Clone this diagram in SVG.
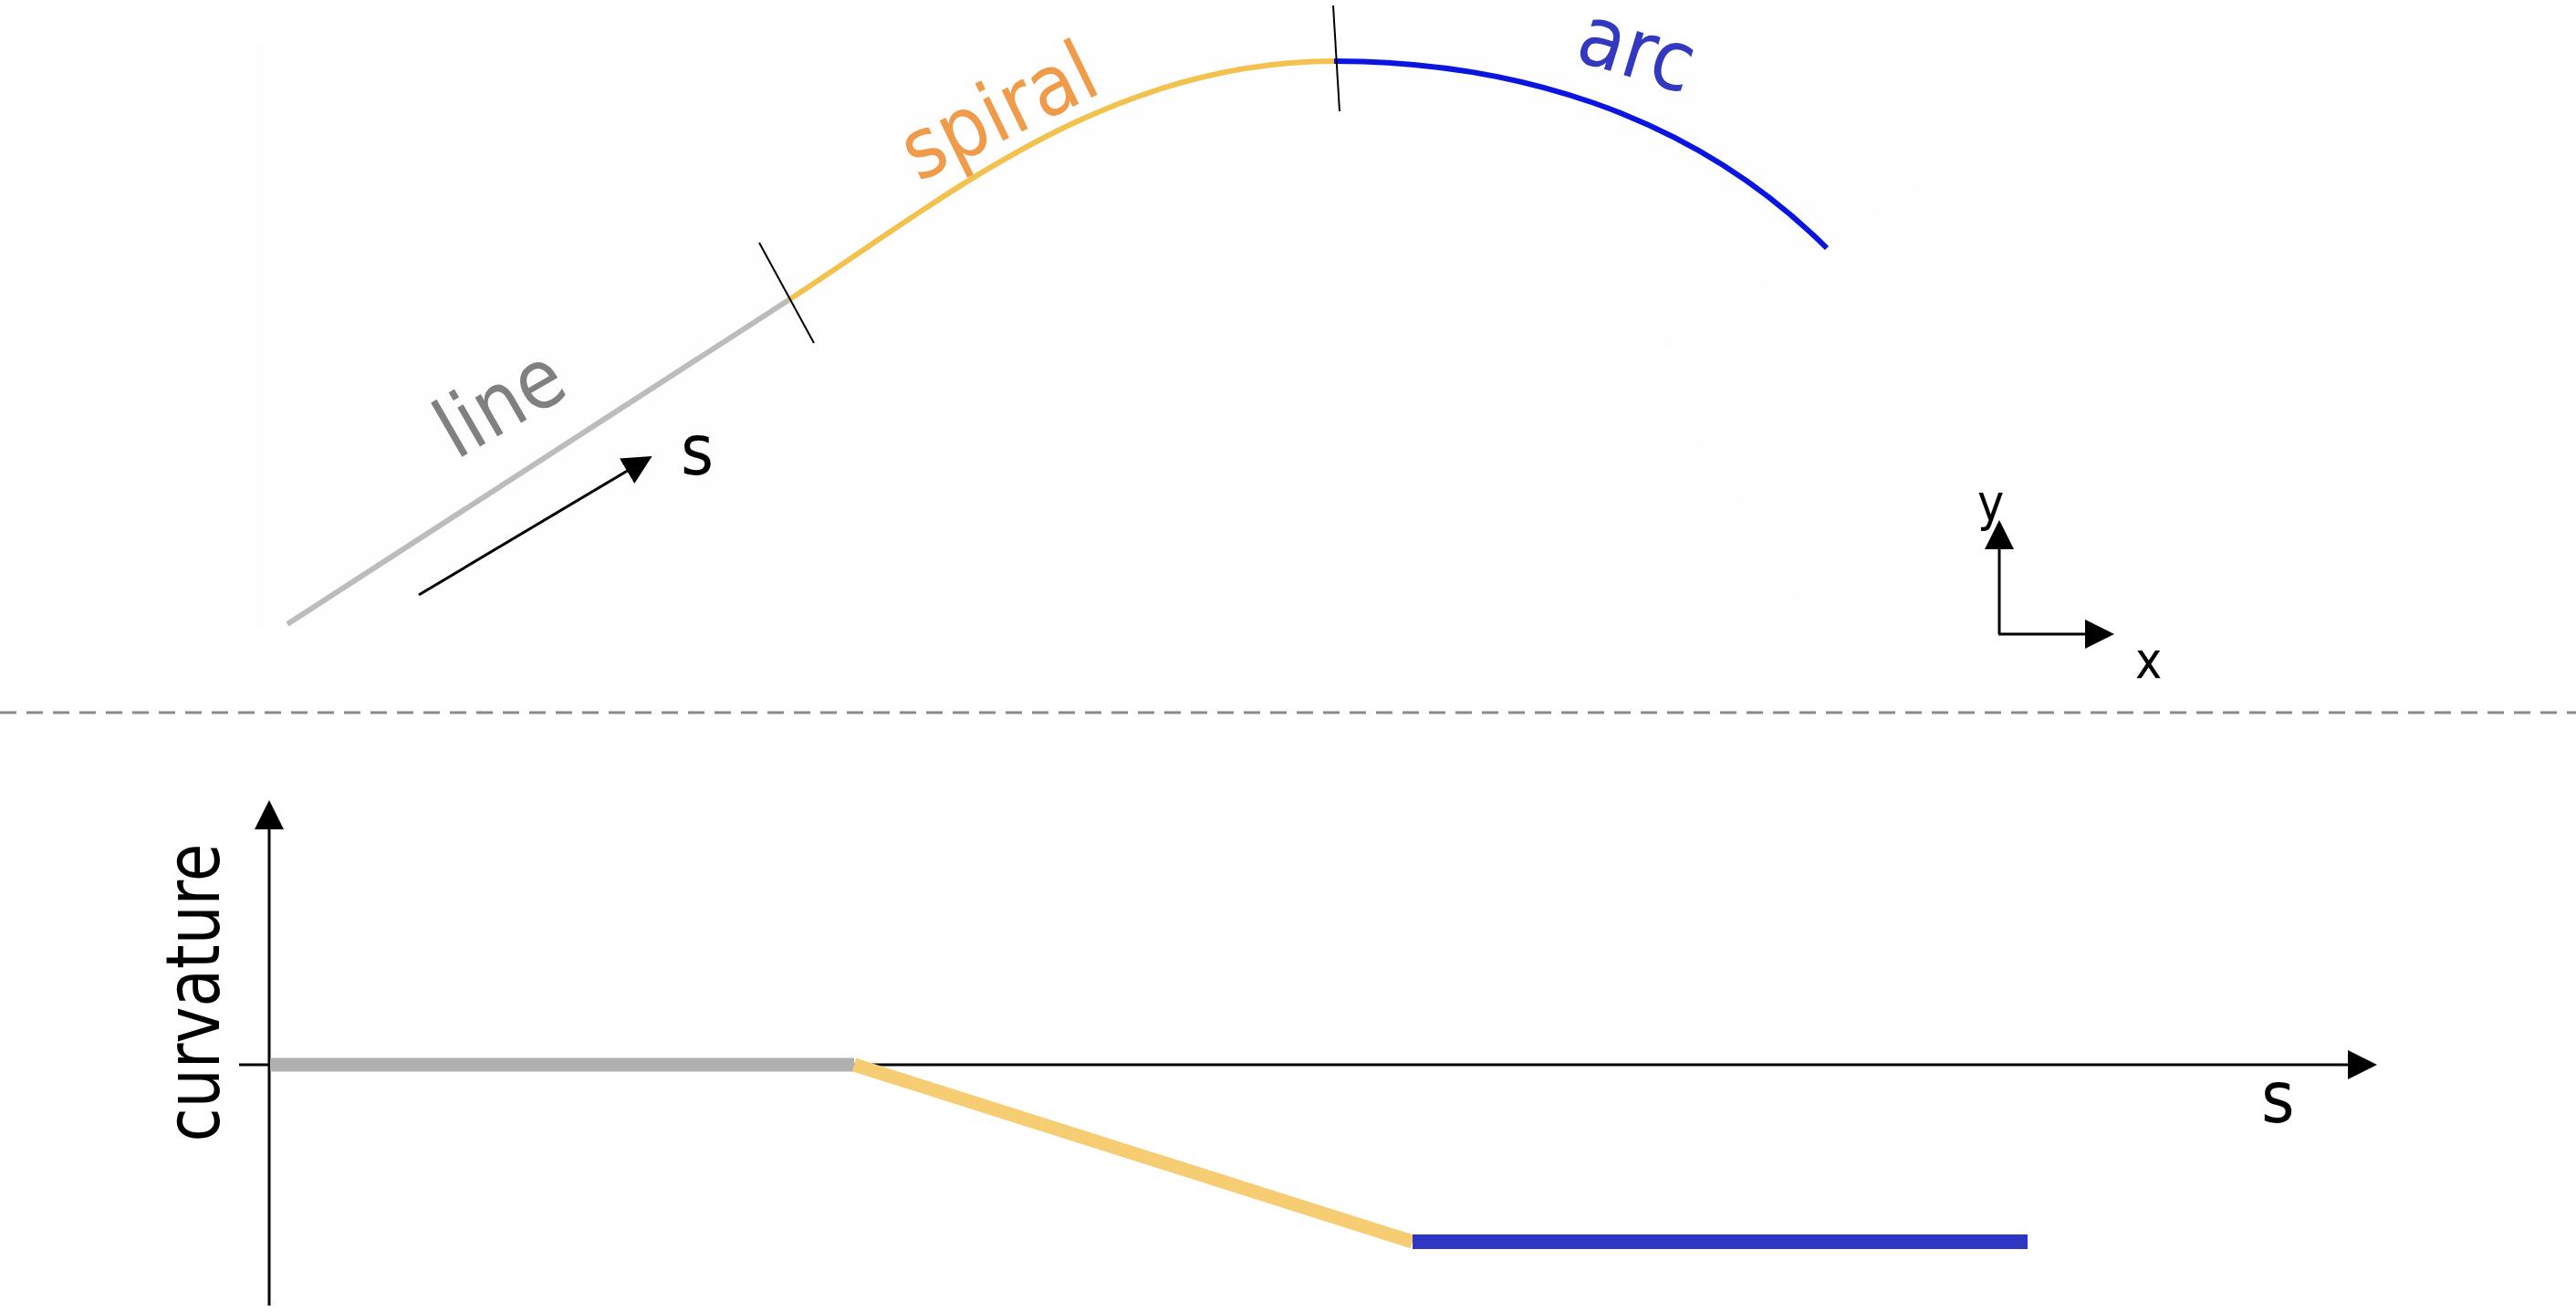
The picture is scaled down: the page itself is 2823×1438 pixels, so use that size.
<svg xmlns="http://www.w3.org/2000/svg" width="2823" height="1438" viewBox="0 0 2823 1438">
<style>
.lbl{font-family:'DejaVu Sans Condensed','DejaVu Sans',sans-serif;}
.ax{stroke:#000;stroke-width:3;fill:none;}
.tick{stroke:#000;stroke-width:2;fill:none;}
</style>
<defs>
<marker id="ah" viewBox="0 0 32 32" refX="22" refY="16" markerWidth="32" markerHeight="32" markerUnits="userSpaceOnUse" orient="auto">
<path d="M0,0 L32,16 L0,32 z" fill="#000"/>
</marker>
</defs>
<rect width="2823" height="1438" fill="#fff"/>
<polygon points="283,47 2194,47 2194,154 1811,391 1995,688 283,688" fill="#fefefe"/>

<g id="path-plot">
  <g id="seg-line">
    <line x1="315" y1="684" x2="864" y2="329" stroke="#bcbcbc" stroke-width="6"/>
    <text class="lbl" x="563" y="468" font-size="90" fill="#808080" text-anchor="middle" transform="rotate(-30 563 468)">line</text>
  </g>
  <g id="seg-spiral">
    <path d="M864,329 C1032,220 1212,67 1462,67" stroke="#f2c14e" stroke-width="6" fill="none"/>
    <text class="lbl" x="1108" y="150" font-size="92" fill="#ef9b4a" text-anchor="middle" transform="rotate(-26 1108 150)">spiral</text>
  </g>
  <g id="seg-arc">
    <path d="M1462,67 C1650,67 1850,120 2002,272" stroke="#0a16e0" stroke-width="6" fill="none"/>
    <text class="lbl" x="1785" y="84" font-size="92" fill="#3238c0" text-anchor="middle" transform="rotate(17 1785 84)">arc</text>
  </g>
  <g id="ticks">
    <line class="tick" x1="832" y1="266" x2="892" y2="376"/>
    <line class="tick" x1="1461" y1="6" x2="1468" y2="122"/>
  </g>
  <g id="s-direction">
    <line class="ax" x1="459" y1="652" x2="706" y2="505" marker-end="url(#ah)"/>
    <text class="lbl" x="746" y="520" font-size="77" fill="#000">s</text>
  </g>
  <g id="xy-frame">
    <line class="ax" x1="2191" y1="695" x2="2191" y2="580" marker-end="url(#ah)"/>
    <line class="ax" x1="2190" y1="695" x2="2307" y2="695" marker-end="url(#ah)"/>
    <text class="lbl" x="2167" y="570" font-size="55" fill="#000">y</text>
    <text class="lbl" x="2340" y="743" font-size="55" fill="#000">x</text>
  </g>
</g>

<line id="divider" x1="0" y1="781" x2="2823" y2="781" stroke="#8a8a8a" stroke-width="3" stroke-dasharray="18 11"/>

<g id="connectors">
  <line class="ax" x1="295" y1="1431" x2="295" y2="887" marker-end="url(#ah)"/>
  <line class="ax" x1="262" y1="1167" x2="2595" y2="1167" marker-end="url(#ah)"/>
</g>
<g id="curvature-plot">
  <line x1="296" y1="1167" x2="936" y2="1167" stroke="#b0b0b0" stroke-width="15"/>
  <line x1="936" y1="1167" x2="1548" y2="1361" stroke="#f7cd74" stroke-width="15"/>
  <line x1="1548" y1="1361" x2="2222" y2="1361" stroke="#3036c4" stroke-width="16"/>
  <text class="lbl" x="0" y="0" font-size="82" fill="#000" text-anchor="middle" textLength="327" lengthAdjust="spacingAndGlyphs" transform="translate(240,1088) rotate(-90)">curvature</text>
  <text class="lbl" x="2478" y="1230" font-size="78" fill="#000">s</text>
</g>
</svg>
